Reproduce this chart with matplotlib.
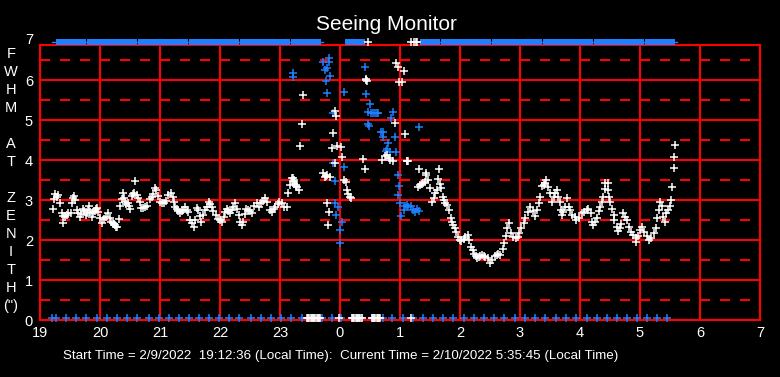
import matplotlib
matplotlib.use('Agg')
import matplotlib.pyplot as plt
from matplotlib.path import Path

plt.rcParams['font.family'] = ['Liberation Sans', 'DejaVu Sans']
plt.rcParams['lines.scale_dashes'] = False

# ---------------- data ----------------
hour_ticks = [19, 20, 21, 22, 23, 24, 25, 26, 27, 28, 29, 30, 31]
hour_labels = ['19', '20', '21', '22', '23', '0', '1', '2', '3', '4', '5', '6', '7']
y_ticks = [0, 1, 2, 3, 4, 5, 6]
y_labels = ['0', '1', '2', '3', '4', '5', '6']

# white FWHM points, evening
eve_t = [19.22, 19.24, 19.25, 19.28, 19.30, 19.33, 19.36, 19.38, 19.39, 19.42, 19.45, 19.47,
         19.51, 19.53, 19.55, 19.56, 19.58, 19.61, 19.64, 19.67, 19.69, 19.71, 19.74, 19.76,
         19.78, 19.80, 19.82, 19.84, 19.86, 19.89, 19.91, 19.93, 19.95, 19.97, 20.00, 20.03,
         20.06, 20.10, 20.14, 20.16, 20.18, 20.21, 20.23, 20.25, 20.27, 20.29, 20.32, 20.34,
         20.36, 20.38, 20.40, 20.42, 20.44, 20.46, 20.48, 20.50, 20.53, 20.55, 20.57, 20.59,
         20.61, 20.63, 20.66, 20.69, 20.72, 20.75, 20.79, 20.83, 20.86, 20.88, 20.92, 20.94,
         20.97, 21.00, 21.03, 21.06, 21.10, 21.14, 21.18, 21.21, 21.23, 21.25, 21.28, 21.30,
         21.33, 21.36, 21.39, 21.42, 21.45, 21.47, 21.50, 21.53, 21.56, 21.58, 21.61, 21.64,
         21.67, 21.69, 21.72, 21.75, 21.78, 21.82, 21.84, 21.86, 21.89, 21.93, 21.97, 22.00,
         22.03, 22.06, 22.08, 22.11, 22.14, 22.17, 22.20, 22.22, 22.25, 22.28, 22.31, 22.34,
         22.36, 22.39, 22.42, 22.44, 22.47, 22.50, 22.53, 22.57, 22.61, 22.65, 22.69, 22.72,
         22.75, 22.79, 22.83, 22.87, 22.90, 22.92, 22.96, 22.99, 23.03, 23.07, 23.11, 23.14,
         23.17, 23.21, 23.23, 23.24, 23.26, 23.28, 23.31]
eve_v = [2.77, 3.02, 3.15, 3.08, 3.12, 2.93, 2.67, 2.60, 2.43, 2.58, 2.62, 2.68,
         2.67, 2.92, 3.05, 3.10, 3.00, 2.75, 2.68, 2.58, 2.65, 2.77, 2.72, 2.62,
         2.67, 2.75, 2.85, 2.70, 2.58, 2.68, 2.72, 2.77, 2.80, 2.71, 2.54, 2.42,
         2.52, 2.58, 2.68, 2.55, 2.46, 2.42, 2.40, 2.37, 2.33, 2.32, 2.52, 2.85,
         3.02, 3.18, 3.05, 2.96, 2.90, 2.92, 2.85, 2.77, 3.10, 3.15, 3.17, 3.48,
         3.12, 3.05, 2.96, 2.79, 2.80, 2.82, 2.85, 3.02, 3.08, 3.15, 3.29, 3.25,
         3.10, 2.96, 2.92, 2.92, 2.98, 3.12, 3.17, 3.08, 2.95, 2.83, 2.78, 2.72,
         2.68, 2.72, 2.76, 2.82, 2.75, 2.71, 2.50, 2.42, 2.33, 2.50, 2.79, 2.76,
         2.60, 2.46, 2.63, 2.75, 2.83, 2.96, 2.90, 2.83, 2.72, 2.63, 2.52, 2.50,
         2.46, 2.58, 2.70, 2.77, 2.72, 2.67, 2.76, 2.83, 2.92, 2.78, 2.63, 2.45,
         2.38, 2.45, 2.65, 2.77, 2.75, 2.72, 2.67, 2.85, 2.92, 2.83, 2.92, 2.98,
         3.04, 2.96, 2.75, 2.71, 2.78, 2.83, 2.90, 2.96, 2.92, 2.83, 2.83, 3.17,
         3.38, 3.54, 3.50, 3.46, 3.38, 3.33, 3.25]

# white points, scattered around midnight
night_t = [23.20, 23.22, 23.24, 23.26, 23.34, 23.37, 23.39, 23.71, 23.75, 23.76, 23.79, 23.83,
           23.78, 23.82, 23.80, 23.87, 23.89, 23.92, 23.93, 23.92, 23.95, 24.01, 24.04, 24.07,
           24.10, 24.11, 24.14, 24.16, 24.18, 24.39, 24.41, 24.43, 24.44, 24.45, 24.70, 24.75,
           24.78, 24.81, 24.84, 24.88, 24.91, 24.94, 24.96, 24.99, 25.03, 25.06, 25.08, 25.11,
           25.12, 25.13]
night_v = [3.54, 3.48, 3.40, 3.35, 4.36, 4.89, 5.62, 3.67, 3.58, 3.60, 3.62, 3.57,
           2.93, 2.71, 2.38, 4.29, 4.67, 5.22, 5.10, 3.93, 4.35, 4.33, 4.08, 3.50,
           3.46, 3.25, 3.15, 3.08, 3.04, 4.02, 3.77, 6.00, 6.02, 5.98, 4.00, 4.10,
           4.13, 4.05, 4.00, 3.97, 4.92, 6.42, 6.33, 5.96, 5.95, 6.22, 4.64, 3.97,
           3.98, 3.97]

# white points, morning
morn_t = [25.30, 25.32, 25.33, 25.36, 25.39, 25.41, 25.43, 25.44, 25.47, 25.50, 25.53, 25.56,
          25.58, 25.61, 25.64, 25.645, 25.67, 25.69, 25.71, 25.73, 25.75, 25.79, 25.82, 25.85,
          25.87, 25.89, 25.91, 25.94, 25.97, 26.00, 26.02, 26.06, 26.09, 26.13, 26.15, 26.18,
          26.21, 26.24, 26.26, 26.28, 26.31, 26.33, 26.37, 26.40, 26.42, 26.46, 26.50, 26.54,
          26.58, 26.61, 26.63, 26.67, 26.71, 26.74, 26.76, 26.79, 26.82, 26.85, 26.89, 26.93,
          26.96, 26.98, 27.02, 27.06, 27.08, 27.13, 27.17, 27.21, 27.25, 27.28, 27.31, 27.33,
          27.37, 27.40, 27.42, 27.44, 27.47, 27.50, 27.53, 27.56, 27.58, 27.61, 27.64, 27.67,
          27.69, 27.70, 27.72, 27.75, 27.78, 27.81, 27.83, 27.86, 27.91, 27.94, 27.98, 28.03,
          28.07, 28.11, 28.14, 28.18, 28.20, 28.22, 28.25, 28.28, 28.31, 28.33, 28.36, 28.39,
          28.41, 28.42, 28.46, 28.47, 28.48, 28.50, 28.53, 28.56, 28.57, 28.61, 28.64, 28.67,
          28.69, 28.72, 28.75, 28.78, 28.81, 28.85, 28.89, 28.93, 28.94, 28.97, 29.00, 29.04,
          29.07, 29.11, 29.15, 29.19, 29.24, 29.26, 29.28, 29.31, 29.33, 29.36, 29.39, 29.42,
          29.44, 29.47, 29.50, 29.52, 29.54, 29.56, 29.57, 29.59]
morn_v = [3.33, 3.77, 3.38, 3.40, 3.42, 3.45, 3.67, 3.62, 3.50, 3.29, 2.96, 3.05,
          3.17, 3.25, 3.52, 3.77, 3.40, 3.29, 3.07, 3.00, 2.92, 2.87, 2.75, 2.54,
          2.46, 2.38, 2.29, 2.21, 2.07, 2.00, 1.98, 2.02, 2.08, 2.12, 2.00, 1.83,
          1.75, 1.65, 1.60, 1.54, 1.58, 1.60, 1.62, 1.60, 1.57, 1.54, 1.43, 1.50,
          1.60, 1.62, 1.65, 1.62, 1.77, 1.92, 2.10, 2.29, 2.43, 2.17, 2.07, 2.04,
          2.07, 2.17, 2.29, 2.43, 2.54, 2.71, 2.82, 2.73, 2.60, 2.75, 2.92, 3.08,
          3.35, 3.38, 3.42, 3.50, 3.33, 3.17, 2.96, 3.08, 3.17, 3.25, 3.08, 2.96,
          2.75, 2.62, 2.70, 2.83, 3.04, 2.83, 2.75, 2.62, 2.57, 2.50, 2.54, 2.68,
          2.71, 2.75, 2.77, 2.67, 2.45, 2.38, 2.46, 2.54, 2.73, 2.83, 2.96, 3.08,
          3.27, 3.43, 3.43, 3.25, 3.08, 2.96, 2.77, 2.62, 2.50, 2.33, 2.23, 2.29,
          2.40, 2.67, 2.57, 2.50, 2.33, 2.21, 2.12, 2.04, 1.96, 2.10, 2.25, 2.32,
          2.21, 2.10, 2.00, 2.04, 2.17, 2.29, 2.54, 2.75, 2.96, 2.85, 2.58, 2.46,
          2.67, 2.75, 2.85, 3.00, 3.32, 3.79, 4.07, 4.38]

# blue points, scattered
blue_t = [23.22, 23.22, 23.72, 23.75, 23.76, 23.78, 23.79, 23.81, 23.82, 23.83, 23.88, 23.89,
          23.92, 23.92, 23.93, 23.96, 24.00, 24.00, 24.04, 24.06, 24.07, 24.42, 24.44, 24.46,
          24.48, 24.50, 24.47, 24.52, 24.55, 24.58, 24.61, 24.64, 24.69, 24.72, 24.72, 24.76,
          24.78, 24.80, 24.83, 24.85, 24.89, 24.92, 24.94, 24.96, 24.97, 24.99, 25.00, 25.02,
          25.06, 25.08, 25.11, 25.14, 25.18, 25.22, 25.25, 25.28, 25.31, 25.32]
blue_v = [6.18, 6.07, 6.46, 6.25, 5.98, 5.67, 6.29, 6.54, 6.46, 6.10, 5.18, 3.92,
          3.48, 2.92, 2.62, 2.83, 2.25, 1.92, 2.44, 3.82, 5.71, 6.32, 5.65, 4.90,
          4.85, 5.40, 5.20, 5.18, 5.17, 5.17, 5.18, 5.17, 4.70, 4.70, 4.57, 4.23,
          4.27, 4.42, 4.20, 5.04, 5.21, 4.57, 4.19, 3.62, 3.13, 3.35, 2.93, 2.60,
          2.75, 2.85, 2.87, 2.83, 2.85, 2.75, 2.71, 2.77, 2.73, 4.83]

# blue markers along the bottom (value drawn at 0)
blue_bottom_t = [19.195, 19.267, 19.433, 19.60, 19.767, 19.955, 20.122, 20.288, 20.455, 20.622,
                 20.812, 20.978, 21.145, 21.312, 21.478, 21.655, 21.822, 21.988, 22.155, 22.322,
                 22.512, 22.678, 22.845, 23.012, 23.178, 23.362, 23.528, 23.695, 23.862, 24.012,
                 24.195, 24.362, 24.528, 24.712, 24.862, 25.045, 25.212, 25.378, 25.555, 25.722,
                 25.888, 26.067, 26.233, 26.40, 26.567, 26.733, 26.917, 27.083, 27.25, 27.417,
                 27.60, 27.767, 27.933, 28.112, 28.278, 28.445, 28.622, 28.788, 28.955, 29.122,
                 29.288, 29.455]
# white markers along the bottom
white_bottom_t = [23.45, 23.47, 23.49, 23.51, 23.53, 23.55, 23.57, 23.59, 23.61, 23.63, 23.65, 23.67,
                  23.99, 24.20, 24.22, 24.24, 24.26, 24.28, 24.30, 24.32, 24.34, 24.36,
                  24.53, 24.55, 24.57, 24.59, 24.61, 24.63, 24.65, 24.67, 25.18]

# blue blocks along the top (value drawn at 7)
top_a_t = [19.35, 19.52, 19.69, 19.86, 20.03, 20.20, 20.37, 20.54, 20.71, 20.88, 21.05, 21.22,
           21.39, 21.56, 21.73, 21.90, 22.07, 22.24, 22.41, 22.58, 22.75, 22.92, 23.09, 23.26,
           23.43, 23.60]
top_a_span = [19.20, 23.72]
top_b_t = [24.16, 24.33]
top_b_span = [24.08, 24.40]
top_c_t = [25.42, 25.59, 25.76, 25.93, 26.10, 26.27, 26.44, 26.61, 26.78, 26.95, 27.12, 27.29,
           27.46, 27.63, 27.80, 27.97, 28.14, 28.31, 28.48, 28.65, 28.82, 28.99, 29.16, 29.33,
           29.50]
top_c_span = [25.33, 29.62]
white_top_t = [24.47, 25.19, 25.24, 25.26, 25.28]

TOP_Y = 6.95
BOT_Y = 0.05
BLUE = '#1E80FF'
RED = '#FF0000'

# ---------------- figure ----------------
W, H = 780, 377
fig = plt.figure(figsize=(W / 100, H / 100), dpi=100, facecolor='black')
ax = fig.add_axes([40 / W, 1 - 320 / H, 720 / W, 275 / H], facecolor='black')
ax.set_xlim(19, 31)
ax.set_ylim(0, 6.875)

# grid
for h in hour_ticks:
    ax.axvline(h, color=RED, lw=1.5, zorder=1)
for y in y_ticks:
    ax.axhline(y, color=RED, lw=1.5, zorder=1)
for y in [0.5, 1.5, 2.5, 3.5, 4.5, 5.5, 6.5]:
    ax.axhline(y, color=RED, lw=1.5, dashes=(7.2, 7.2), zorder=1)

for s in ax.spines.values():
    s.set_color(RED)
    s.set_linewidth(1.5)

ax.set_xticks(hour_ticks)
ax.set_xticklabels(hour_labels)
ax.set_yticks(y_ticks)
ax.set_yticklabels(y_labels)
ax.tick_params(length=0, colors='white', labelsize=10.5)
ax.tick_params(axis='x', pad=4)
ax.tick_params(axis='y', pad=5)
ax.annotate('7', xy=(0, 7), xycoords=('axes fraction', 'data'), xytext=(-6.5, 0),
            textcoords='offset pixels', ha='right', va='center', color='white',
            fontsize=10.5, annotation_clip=False)

mk = dict(linestyle='none', marker='+', ms=5.2, mew=1.1, zorder=4, clip_on=False)
ax.plot(blue_t, blue_v, color=BLUE, **mk)
ax.plot(eve_t, eve_v, color='white', **mk)
ax.plot(night_t, night_v, color='white', **mk)
ax.plot(morn_t, morn_v, color='white', **mk)
ax.plot(blue_bottom_t, [BOT_Y] * len(blue_bottom_t), color=BLUE, **mk)
ax.plot(white_bottom_t, [BOT_Y] * len(white_bottom_t), color='white', **mk)

block = Path([(-1, -0.55), (1, -0.55), (1, 0.55), (-1, 0.55), (-1, -0.55)],
             [Path.MOVETO, Path.LINETO, Path.LINETO, Path.LINETO, Path.CLOSEPOLY])
for span, ts in [(top_a_span, top_a_t), (top_b_span, top_b_t), (top_c_span, top_c_t)]:
    ax.plot(span, [TOP_Y] * 2, color=BLUE, lw=1.0, zorder=4, clip_on=False)
    ax.plot(ts, [TOP_Y] * len(ts), linestyle='none', marker=block, ms=6.6, mew=0,
            color=BLUE, zorder=4, clip_on=False)
ax.plot(white_top_t, [TOP_Y] * len(white_top_t), color='white', **mk)

# texts
fig.text(386.5 / W, 1 - 30 / H, 'Seeing Monitor', ha='center', va='baseline',
         color='white', fontsize=15)
letters = [('F', 53), ('W', 71), ('H', 89), ('M', 107), ('A', 143), ('T', 161),
           ('Z', 197), ('E', 215), ('N', 233), ('I', 251), ('T', 269), ('H', 287), ('(")', 305)]
for ch, yc in letters:
    fig.text(11 / W, 1 - (yc + 5) / H, ch, ha='center', va='baseline', color='white',
             fontsize=10.5)
fig.text(62.5 / W, 1 - 359 / H,
         'Start Time = 2/9/2022  19:12:36 (Local Time):  Current Time = 2/10/2022 5:35:45 (Local Time)',
         ha='left', va='baseline', color='white', fontsize=9.6)

fig.savefig('out.png', dpi=100, facecolor='black')
